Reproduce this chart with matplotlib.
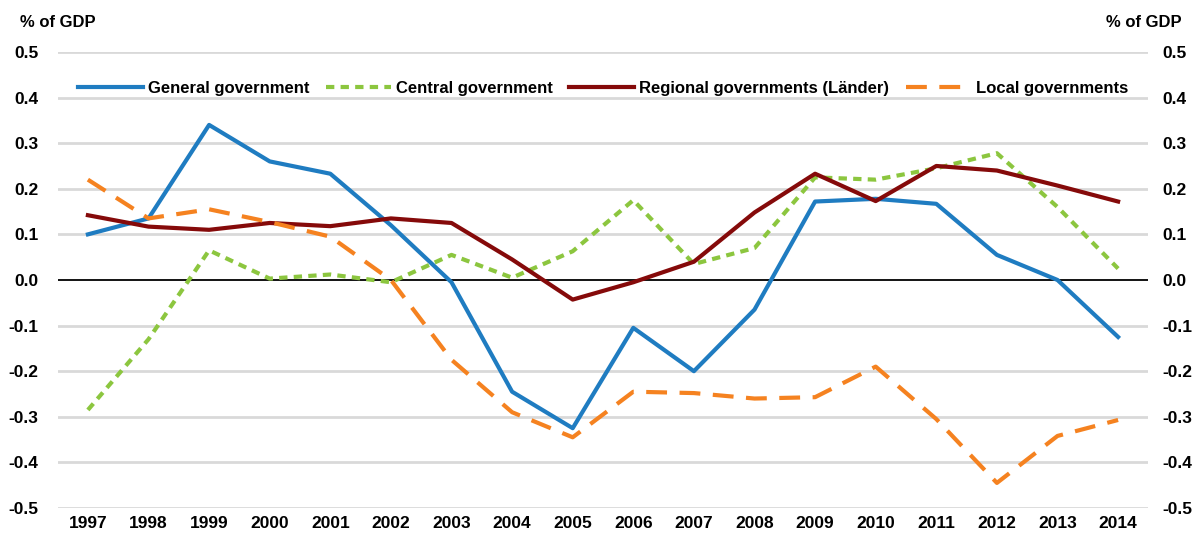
import matplotlib.pyplot as plt
import numpy as np

plt.rcParams['font.family'] = ['Liberation Sans', 'DejaVu Sans']

years = [str(y) for y in range(1997, 2015)]

general = [0.10, 0.135, 0.34, 0.26, 0.233, 0.12, -0.005, -0.245, -0.325, -0.105,
           -0.20, -0.065, 0.172, 0.178, 0.167, 0.055, 0.0, -0.125]
central = [-0.285, -0.13, 0.065, 0.003, 0.012, -0.005, 0.055, 0.005, 0.063, 0.175,
           0.035, 0.07, 0.225, 0.22, 0.245, 0.278, 0.16, 0.025]
regional = [0.142, 0.117, 0.11, 0.125, 0.118, 0.135, 0.125, 0.045, -0.043, -0.005,
            0.04, 0.148, 0.233, 0.173, 0.25, 0.24, 0.207, 0.172]
local = [0.22, 0.135, 0.155, 0.127, 0.095, 0.0, -0.175, -0.29, -0.345, -0.245,
         -0.248, -0.26, -0.257, -0.19, -0.305, -0.445, -0.342, -0.307]

yticks = [0.5, 0.4, 0.3, 0.2, 0.1, 0.0, -0.1, -0.2, -0.3, -0.4, -0.5]

fig = plt.figure(figsize=(12, 5.34), dpi=100)
ax = fig.add_axes([0.048, 0.0487, 0.909, 0.854])
x = np.arange(len(years))

for v in yticks:
    if v != 0:
        ax.axhline(v, color='#d9d9d9', lw=2, zorder=0)
ax.axhline(0, color='black', lw=1.3, zorder=1)

ax.plot(x, general, color='#1f7cc1', lw=3, label='General government', zorder=3)
ax.plot(x, central, color='#8cc63f', lw=3, ls=(0, (2, 1.5)), label='Central government', zorder=3)
ax.plot(x, regional, color='#850a0a', lw=3, label='Regional governments (Länder)', zorder=3)
ax.plot(x, local, color='#f58220', lw=3, ls=(0, (5, 3)), label='Local governments', zorder=3)

ax.set_xlim(-0.5, len(years) - 0.5)
ax.set_ylim(-0.5, 0.5)
ax.set_xticks(x)
ax.set_xticklabels(years)
ax.set_yticks(yticks)
ax.set_yticklabels(['%.1f' % v for v in yticks])
for s in ax.spines.values():
    s.set_visible(False)
ax.tick_params(axis='y', length=0, labelsize=12.5, pad=14)
ax.tick_params(axis='x', length=0, labelsize=12.5, pad=6)
for lab in ax.get_xticklabels() + ax.get_yticklabels():
    lab.set_fontweight('bold')

ax2 = ax.twinx()
ax2.set_ylim(-0.5, 0.5)
ax2.set_yticks(yticks)
ax2.set_yticklabels(['%.1f' % v for v in yticks], fontweight='bold')
for s in ax2.spines.values():
    s.set_visible(False)
ax2.tick_params(length=0, labelsize=12.5, pad=10)

fig.text(0.017, 0.958, '% of GDP', fontsize=12, fontweight='bold', va='center')
fig.text(0.985, 0.958, '% of GDP', fontsize=12, fontweight='bold', va='center', ha='right')

ax.legend(loc='center', bbox_to_anchor=(0.5, 0.92), ncol=4, frameon=False,
          handlelength=3.9, columnspacing=1.0, handletextpad=0.3,
          prop={'weight': 'bold', 'size': 12})

fig.savefig('out.png', dpi=100)
